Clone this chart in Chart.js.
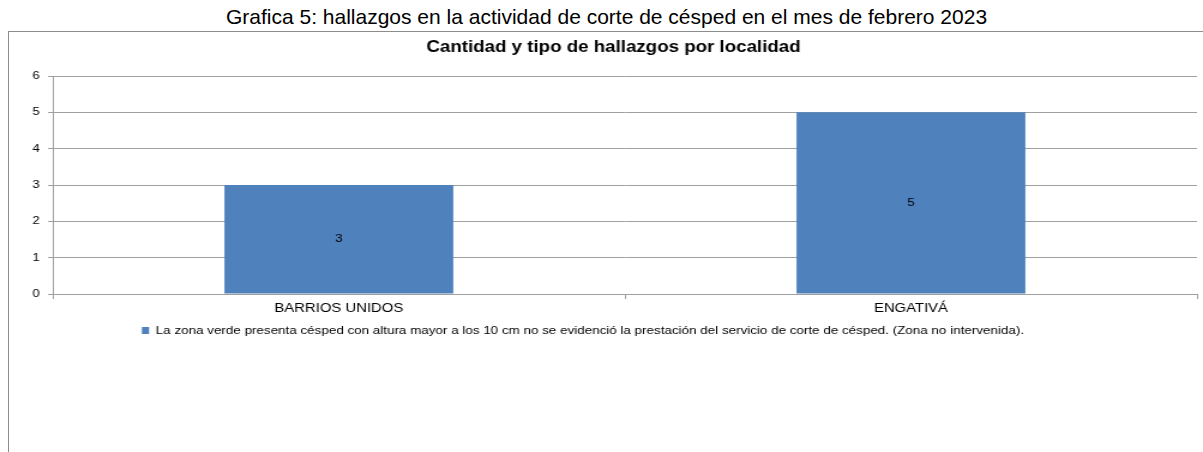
<!DOCTYPE html>
<html>
<head>
<meta charset="utf-8">
<script src="https://cdn.jsdelivr.net/npm/chart.js@4.4.1/dist/chart.umd.min.js"></script>
<style>
html,body{margin:0;padding:0;background:#fff;}
#wrap{position:relative;width:1203px;height:452px;overflow:hidden;}
#frame{position:absolute;left:8px;top:31px;right:0;bottom:0;border-left:1px solid #8c8c8c;border-top:1px solid #8c8c8c;}
#maintitle{position:absolute;left:606.5px;top:5px;transform:translateX(-50%);white-space:nowrap;
  font-family:'Liberation Sans',Arial,sans-serif;font-size:21px;line-height:24px;color:#000;}
#c{position:absolute;left:0;top:0;}
</style>
</head>
<body>
<div id="wrap">
  <div id="frame"></div>
  <div id="maintitle"></div>
  <canvas id="c" width="1003" height="452" style="width:1203px;height:452px;display:block"></canvas>
</div>
<script>
const categories = ['BARRIOS UNIDOS', 'ENGATIVÁ'];
const seriesName = 'La zona verde presenta césped con altura mayor a los 10 cm no se evidenció la prestación del servicio de corte de césped. (Zona no intervenida).';
const seriesValues = [3, 5];
const yTicks = [0, 1, 2, 3, 4, 5, 6];
const mainTitle = 'Grafica 5: hallazgos en la actividad de corte de césped en el mes de febrero 2023';
const chartTitle = 'Cantidad y tipo de hallazgos por localidad';

document.getElementById('maintitle').textContent = mainTitle;

const FONT = "'Liberation Sans', Arial, sans-serif";

const shiftBlocks = {
  id: 'shiftBlocks',
  beforeDraw(chart) {
    if (chart.titleBlock && !chart.titleBlock._shifted) {
      chart.titleBlock.left += 12.5; chart.titleBlock.right += 12.5; chart.titleBlock._shifted = true;
    }
    if (chart.legend && !chart.legend._shifted) {
      chart.legend.left -= 13; chart.legend.right -= 13; chart.legend._shifted = true;
    }
  }
};

const valueLabels = {
  id: 'valueLabels',
  afterDatasetsDraw(chart) {
    const ctx = chart.ctx;
    ctx.save();
    ctx.font = '11px ' + FONT;
    ctx.fillStyle = '#000';
    ctx.textAlign = 'center';
    ctx.textBaseline = 'middle';
    chart.data.datasets.forEach((ds, di) => {
      chart.getDatasetMeta(di).data.forEach((bar, i) => {
        const p = bar.getProps(['x', 'y', 'base'], true);
        ctx.fillText(String(ds.data[i]), p.x, (p.y + p.base) / 2);
      });
    });
    ctx.restore();
  }
};

new Chart(document.getElementById('c'), {
  type: 'bar',
  data: {
    labels: categories,
    datasets: [{
      label: seriesName,
      data: seriesValues,
      backgroundColor: '#4F81BD',
      borderWidth: 0,
      categoryPercentage: 1.0,
      barPercentage: 0.4
    }]
  },
  options: {
    responsive: false,
    animation: false,
    devicePixelRatio: 1,
    layout: { padding: { left: 0, right: 5, top: 0, bottom: 105.8 } },
    plugins: {
      title: {
        display: true,
        text: chartTitle,
        color: '#000',
        font: { family: FONT, size: 15.6, weight: 'bold' },
        padding: { top: 38, bottom: 19.3 }
      },
      legend: {
        position: 'bottom',
        labels: {
          color: '#000',
          font: { family: FONT, size: 11.2 },
          boxWidth: 6,
          boxHeight: 7,
          padding: 10
        }
      },
      tooltip: { enabled: false }
    },
    scales: {
      x: {
        afterFit(s) { s.height = 21; },
        grid: {
          offset: true,
          drawOnChartArea: false,
          drawTicks: true,
          tickLength: 5,
          color: '#a0a0a0'
        },
        border: { color: '#a0a0a0' },
        ticks: { color: '#000', font: { family: FONT, size: 12.4 }, padding: 2 }
      },
      y: {
        min: 0,
        max: 6,
        afterFit(s) { s.width = 44; },
        afterBuildTicks(s) { s.ticks = yTicks.map(v => ({ value: v })); },
        grid: { color: '#a0a0a0', tickLength: 4 },
        border: { color: '#a0a0a0' },
        ticks: { color: '#000', font: { family: FONT, size: 11 }, padding: 7 }
      }
    }
  },
  plugins: [shiftBlocks, valueLabels]
});
</script>
</body>
</html>
